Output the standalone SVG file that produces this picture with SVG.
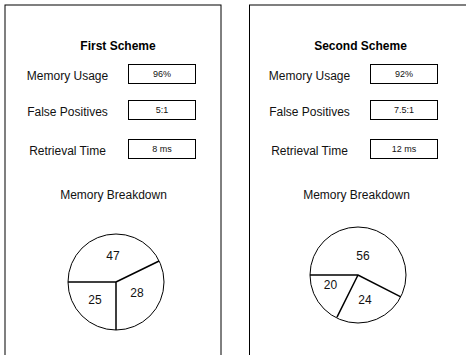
<svg xmlns="http://www.w3.org/2000/svg" width="466" height="355" viewBox="0 0 466 355">
<style>
.frame{fill:#fff;stroke:#000;stroke-width:1}
.title{font-family:"Liberation Sans",Arial,sans-serif;font-size:12px;font-weight:bold;fill:#000;text-anchor:middle;dominant-baseline:central}
.lbl{font-family:"Liberation Sans",Arial,sans-serif;font-size:12px;fill:#111;text-anchor:middle;dominant-baseline:central}
.val{font-family:"Liberation Sans",Arial,sans-serif;font-size:9px;fill:#111;text-anchor:middle;dominant-baseline:central}
.box{fill:#fff;stroke:#000;stroke-width:1}
.pie{fill:#fff;stroke:#000;stroke-width:1}
.cut{stroke:#000;stroke-width:1.5;fill:none}
.num{font-family:"Liberation Sans",Arial,sans-serif;font-size:12px;fill:#111;text-anchor:middle;dominant-baseline:central}
</style>
<rect width="466" height="355" fill="#fff"/>
<g id="first-scheme">
<rect class="frame" x="5" y="5" width="216" height="360"/>
<text class="title" x="118" y="46">First Scheme</text>
<text class="lbl" x="67.5" y="76">Memory Usage</text>
<rect class="box" x="128.5" y="64.5" width="67" height="19"/>
<text class="val" x="162" y="74">96%</text>
<text class="lbl" x="67.5" y="112">False Positives</text>
<rect class="box" x="128.5" y="100.5" width="67" height="19"/>
<text class="val" x="162" y="110">5:1</text>
<text class="lbl" x="67.5" y="151">Retrieval Time</text>
<rect class="box" x="128.5" y="139.5" width="67" height="19"/>
<text class="val" x="162" y="149">8 ms</text>
<text class="lbl" x="113.5" y="194.5">Memory Breakdown</text>
<circle class="pie" cx="116" cy="282" r="48"/>
<path class="cut" d="M68 282H116V330M116 282L159.1 261"/>
<text class="num" x="113" y="256">47</text>
<text class="num" x="95" y="300">25</text>
<text class="num" x="137" y="293">28</text>
</g>
<g id="second-scheme">
<rect class="frame" x="249.5" y="5" width="230" height="360"/>
<text class="title" x="360.5" y="46">Second Scheme</text>
<text class="lbl" x="309.5" y="76">Memory Usage</text>
<rect class="box" x="370.5" y="64.5" width="67" height="19"/>
<text class="val" x="404" y="74">92%</text>
<text class="lbl" x="309.5" y="112">False Positives</text>
<rect class="box" x="370.5" y="100.5" width="67" height="19"/>
<text class="val" x="404" y="110">7.5:1</text>
<text class="lbl" x="309.5" y="151">Retrieval Time</text>
<rect class="box" x="370.5" y="139.5" width="67" height="19"/>
<text class="val" x="404" y="149">12 ms</text>
<text class="lbl" x="356.5" y="194.5">Memory Breakdown</text>
<circle class="pie" cx="358" cy="275" r="48"/>
<path class="cut" d="M310 275H358L400.8 296.8M358 275L337 317.1"/>
<text class="num" x="363" y="256">56</text>
<text class="num" x="330.5" y="285">20</text>
<text class="num" x="365" y="299.5">24</text>
</g>
<g id="connectors"></g>
</svg>
